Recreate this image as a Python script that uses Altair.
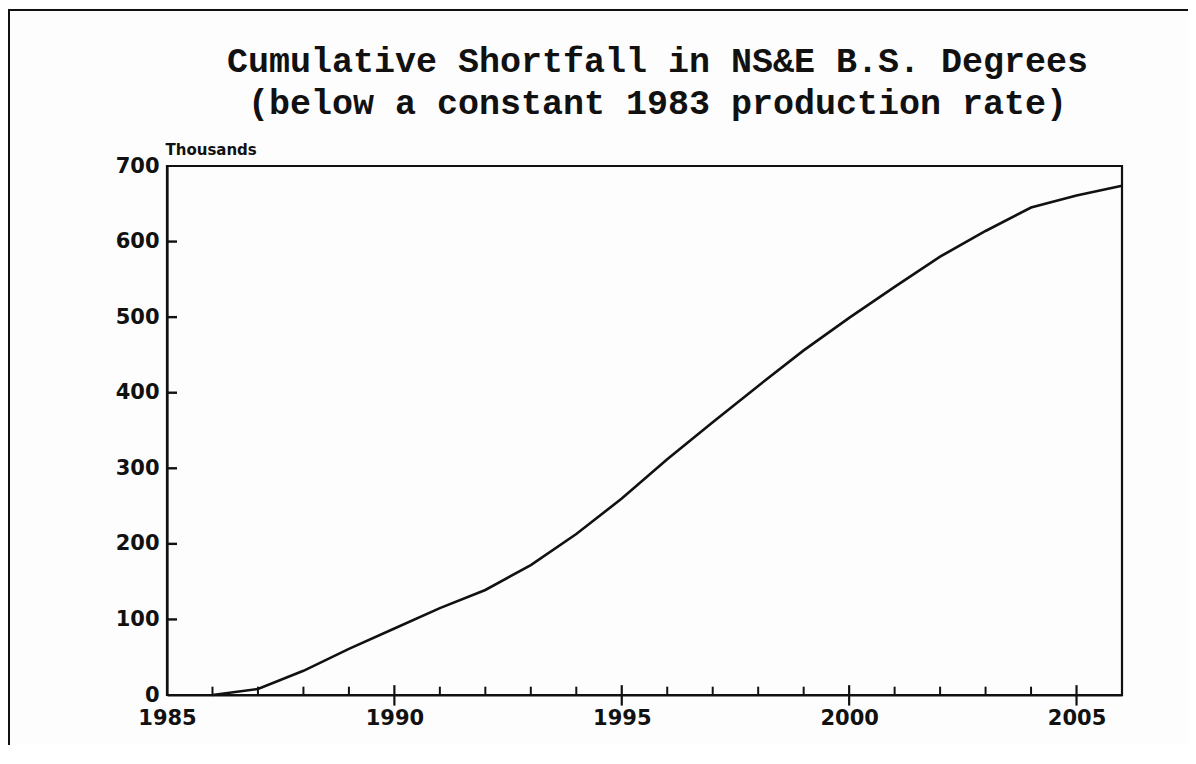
import altair as alt
import pandas as pd

# Data (thousands of degrees)
years = [1986, 1987, 1988, 1989, 1990, 1991, 1992, 1993, 1994, 1995, 1996,
         1997, 1998, 1999, 2000, 2001, 2002, 2003, 2004, 2005, 2006]
shortfall = [0, 8, 32, 61, 88, 115, 139, 172, 213, 260, 312,
             361, 409, 456, 499, 540, 580, 614, 645, 661, 674]

x_labels = [1985, 1990, 1995, 2000, 2005]
y_labels = [0, 100, 200, 300, 400, 500, 600, 700]
minor_years = [1986, 1987, 1988, 1989, 1991, 1992, 1993, 1994, 1996, 1997,
               1998, 1999, 2001, 2002, 2003, 2004]
major_years = [1990, 1995, 2000, 2005]
y_tick_vals = [100, 200, 300, 400, 500, 600]

title_lines = ["Cumulative Shortfall in NS&E B.S. Degrees",
               "(below a constant 1983 production rate)"]

df = pd.DataFrame({"year": years, "value": shortfall})
minor_df = pd.DataFrame({"year": minor_years, "lo": [0] * len(minor_years),
                         "hi": [11] * len(minor_years)})
major_df = pd.DataFrame({"year": major_years, "lo": [-14] * len(major_years),
                         "hi": [13] * len(major_years)})
ytick_df = pd.DataFrame({"tickval": y_tick_vals})

xscale = alt.Scale(domain=[1985, 2006], nice=False, zero=False)
yscale = alt.Scale(domain=[0, 700], nice=False)

LABEL_FONT = "DejaVu Sans"

line = alt.Chart(df).mark_line(color="#111111", strokeWidth=2.6).encode(
    x=alt.X("year:Q", scale=xscale,
            axis=alt.Axis(values=x_labels, format="d", title=None, ticks=False,
                          grid=False, labelFont=LABEL_FONT, labelFontSize=21,
                          labelFontWeight="bold", labelColor="#111111",
                          labelPadding=12, labelFlush=False,
                          domainColor="#111111", domainWidth=2.2)),
    y=alt.Y("value:Q", scale=yscale,
            axis=alt.Axis(values=y_labels, title="Thousands", ticks=False,
                          grid=False, labelFont=LABEL_FONT, labelFontSize=21,
                          labelFontWeight="bold", labelColor="#111111",
                          labelPadding=8, labelFlush=False,
                          domainColor="#111111", domainWidth=2.2,
                          titleAngle=0, titleAlign="left", titleBaseline="alphabetic",
                          titleX=-2, titleY=-12, titleFont=LABEL_FONT,
                          titleFontSize=15, titleFontWeight="bold",
                          titleColor="#111111")),
)

minor = alt.Chart(minor_df).mark_rule(color="#111111", strokeWidth=2).encode(
    x=alt.X("year:Q", scale=xscale),
    y=alt.Y("lo:Q", scale=yscale),
    y2="hi:Q",
)
major = alt.Chart(major_df).mark_rule(color="#111111", strokeWidth=2.2).encode(
    x=alt.X("year:Q", scale=xscale),
    y=alt.Y("lo:Q", scale=yscale),
    y2="hi:Q",
)
# inward y-axis ticks
yticks = alt.Chart(ytick_df).mark_rule(color="#111111", strokeWidth=2.4).encode(
    x=alt.value(0),
    x2=alt.value(10),
    y=alt.Y("tickval:Q", scale=yscale),
)

frame_top = alt.Chart(df).mark_rule(color="#111111", strokeWidth=2).encode(
    x=alt.value(-160), x2=alt.value(1100), y=alt.value(-156))
frame_left = alt.Chart(df).mark_rule(color="#111111", strokeWidth=2).encode(
    x=alt.value(-158), y=alt.value(-156), y2=alt.value(700))

chart = alt.layer(frame_top, frame_left, minor, major, line, yticks).properties(
    width=955,
    height=529,
    autosize=alt.AutoSizeParams(type="none"),
    padding={"left": 159, "top": 158, "right": 66, "bottom": 50},
    background="#fdfdfd",
    title=alt.TitleParams(
        text=title_lines, anchor="middle", frame="group", baseline="bottom",
        font="Liberation Mono", fontSize=35,
        fontWeight="bold", color="#111111", lineHeight=42, offset=0, dy=147,
        dx=13,
    ),
).configure_view(stroke="#111111", strokeWidth=2.2)

chart.save("out.html", embed_options={"renderer": "svg", "actions": False})
